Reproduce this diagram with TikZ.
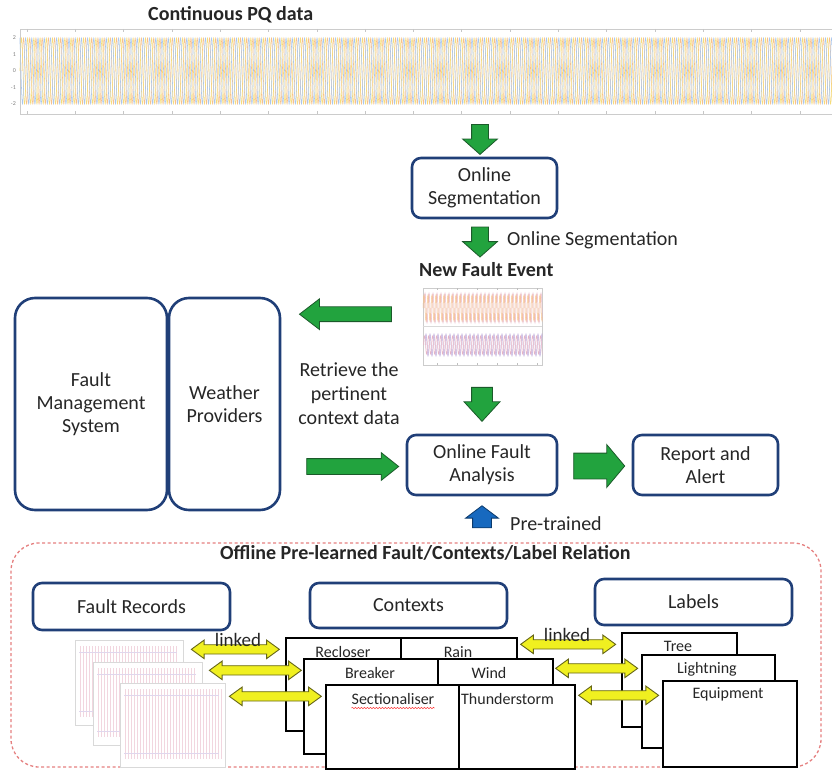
\documentclass[tikz,border=0pt]{standalone}
\usepackage{fontspec}
\setmainfont{Carlito}
\usetikzlibrary{shapes.arrows,calc,decorations.pathmorphing}
\definecolor{navy}{HTML}{203F78}
\definecolor{grn}{HTML}{22A33E}
\definecolor{dgrn}{HTML}{1B5A2A}
\definecolor{yel}{HTML}{F0F020}
\definecolor{olv}{HTML}{666618}
\definecolor{blu}{HTML}{1769BF}
\definecolor{dblu}{HTML}{0C3A6B}
\definecolor{txt}{HTML}{262626}
\definecolor{dashred}{HTML}{E58080}
\definecolor{wvA}{HTML}{F7C08A}
\definecolor{wvB}{HTML}{F5DC7A}
\definecolor{wvC}{HTML}{A9C6EC}
\definecolor{pk}{HTML}{E8B4C4}
\definecolor{pu}{HTML}{BBA6D8}
\begin{document}
\begin{tikzpicture}[x=1pt,y=-1pt,
  every node/.style={text=txt},
  ubox/.style={draw=navy, line width=2.6pt, rounded corners=9pt, align=center,
     font=\fontsize{20}{23}\selectfont, inner sep=0pt},
  bigbox/.style={ubox, rounded corners=20pt},
  cell/.style={draw=black, line width=1.3pt, fill=white, inner sep=0pt},
  ctext/.style={font=\fontsize{16}{19}\selectfont, inner sep=0pt, anchor=base},
  lbl/.style={font=\fontsize{20}{24}\selectfont, align=center, inner sep=0pt},
  ttl/.style={font=\bfseries\fontsize{20}{24}\selectfont, inner sep=0pt, anchor=base west},
  barrow/.style n args={4}{single arrow, minimum height=#1, inner xsep=0pt,
     inner ysep=#2, single arrow head extend=#3, single arrow tip angle=#4, line width=0.8pt},
  garrow/.style={draw=dgrn, fill=grn},
  yarrow/.style={double arrow, draw=olv, fill=yel, line width=0.9pt, minimum height=#1,
     inner xsep=0pt, inner ysep=4.2pt, double arrow head extend=4.6pt, double arrow tip angle=72},
  thumb/.style={draw=gray!30, fill=white, line width=0.6pt},
  axisc/.style={draw=gray!40, line width=0.6pt},
  tick/.style={font=\fontsize{6}{7}\selectfont, text=gray, inner sep=0pt, anchor=east},
]
\useasboundingbox (0,0) rectangle (832,770);

% ---------------- Continuous PQ data ----------------
\node[ttl] (pqt) at (148,21) {Continuous PQ data};
\node[axisc, minimum width=812, minimum height=85, inner sep=0pt] (pq) at (426,71.5) {};
\begin{scope}
  \clip (pq.north west) rectangle (pq.south east);
  \foreach \st/\col in {22/wvA, 19.93/wvB, 17.87/wvC}{
    \draw[\col, line width=0.55pt] (\st,71)
      \foreach \i in {0,...,131}{ sin ++(1.55,-33) cos ++(1.55,33) sin ++(1.55,33) cos ++(1.55,-33) };
  }
\end{scope}
\foreach \xx in {27,75.3,...,832}{
  \draw[gray!45, line width=0.5pt] (\xx,114) -- ++(0,-3);
  \draw[gray!45, line width=0.5pt] (\xx,29) -- ++(0,3);
}
\foreach \yy/\tl in {38/2, 54.5/1, 71/0, 87.5/-1, 104/-2}{
  \node[tick] at (16,\yy) {\tl};
}

% ---------------- online chain ----------------
\node[ubox, minimum width=145, minimum height=60] (seg) at (484.5,188) {Online\\Segmentation};
\node[barrow={30}{8pt}{9pt}{97}, garrow, rotate=-90] (a1) at ($(seg.north)+(-4.5,-21)$) {};
\node[barrow={30}{8pt}{9pt}{97}, garrow, rotate=-90] (a2) at ($(seg.south)+(-4.5,19)$) {};
\node[lbl, anchor=base west] (segl) at (507,245) {Online Segmentation};

\node[ttl] (nfe) at (419,276) {New Fault Event};
% small fault waveform
\node[axisc, minimum width=119, minimum height=77, inner sep=0pt] (nfp) at (482.5,326.5) {};
\begin{scope}
  \clip (nfp.north west) rectangle (nfp.south east);
  \foreach \st/\col/\cy/\am in {424/pk/308/15, 423/wvA/308/13, 425/pu/345/11, 423.5/pk/345/9}{
    \draw[\col, line width=0.5pt] (\st,\cy)
      \foreach \i in {0,...,30}{ sin ++(1,-\am) cos ++(1,\am) sin ++(1,\am) cos ++(1,-\am) };
  }
  \draw[gray!30, line width=0.4pt] (nfp.west |- 0,326) -- (nfp.east |- 0,326);
\end{scope}
\foreach \xx in {437,457,...,542}{
  \draw[gray!50, line width=0.4pt] (\xx,288) -- ++(0,2);
  \draw[gray!50, line width=0.4pt] (\xx,365) -- ++(0,-2);
}

% context sources
\node[bigbox, minimum width=152, minimum height=212] (fms) at (91,404) {Fault\\Management\\System};
\node[bigbox, minimum width=111, minimum height=212] (wea) at (224.5,404) {Weather\\Providers};
\node[barrow={92}{7pt}{8pt}{75}, garrow, rotate=180] (a3) at ($(wea.north east)+(69,17.5)$) {};
\node[lbl] (ret) at (349,394) {Retrieve the\\pertinent\\context data};

\node[ubox, minimum width=150, minimum height=60] (ofa) at (482,465) {Online Fault\\Analysis};
\node[ubox, minimum width=145, minimum height=60] (rep) at (705.5,465) {Report and\\Alert};
\node[barrow={92}{7.5pt}{6pt}{77}, garrow] (a4) at ($(ofa.west)+(-58,1.5)$) {};
\node[barrow={34}{10pt}{7.5pt}{85}, garrow, rotate=-90] (a5) at ($(ofa.north)+(0,-35)$) {};
\node[barrow={51}{12.5pt}{8.5pt}{100}, garrow] (a6) at ($(ofa.east)+(35.5,1)$) {};
\node[barrow={22}{9pt}{7pt}{106}, draw=dblu, fill=blu, rotate=90] (a7) at ($(ofa.south)+(0,24)$) {};
\node[lbl, anchor=base west] (pre) at (510,530) {Pre-trained};

% ---------------- offline ----------------
\node[draw=dashred, dash pattern=on 3pt off 2.5pt, line width=1.3pt, rounded corners=28pt,
      minimum width=810, minimum height=224, inner sep=0pt] (off) at (416,655) {};
\node[ttl] (offt) at (220,559) {Offline Pre-learned Fault/Contexts/Label Relation};

\node[ubox, minimum width=197, minimum height=47] (frec) at (131.5,606.5) {Fault Records};
\node[ubox, minimum width=197, minimum height=45] (ctx) at (408.5,605.5) {Contexts};
\node[ubox, minimum width=197, minimum height=46] (lab) at (693.5,602) {Labels};

% fault record thumbnails
\foreach \nm/\xa/\ya/\xb/\yb in {t1/75/640/183/725, t2/93/662/202/745, t3/120/683/225/767}{
  \node[thumb, minimum width=\xb-\xa, minimum height=\yb-\ya, inner sep=0pt] (\nm) at ({(\xa+\xb)/2},{(\ya+\yb)/2}) {};
  \foreach \xx in {3,6,...,100}{
    \pgfmathsetmacro\xp{\xa+\xx+2}
    \ifdim\xp pt<\xb pt
      \draw[pk!55, line width=0.45pt] (\xp,\ya+6) -- (\xp,\yb-8);
    \fi
  }
  \draw[pu!45, line width=0.4pt] (\xa+4,\ya+12) -- (\xb-6,\ya+12);
  \draw[pu!45, line width=0.4pt] (\xa+4,\yb-14) -- (\xb-6,\yb-14);
}

% context tables
\node[cell, minimum width=231, minimum height=93] (rec) at (401.5,684.5) {};
\draw[black, line width=1.3pt] (401,638) -- (401,731);
\node[ctext] at (343,657) {Recloser};
\node[ctext] at (458,657) {Rain};

\node[cell, minimum width=249, minimum height=95] (brk) at (428.5,706.5) {};
\draw[black, line width=1.3pt] (438,659) -- (438,754);
\node[ctext] at (370,678) {Breaker};
\node[ctext] at (489,678) {Wind};

\node[cell, minimum width=249, minimum height=84] (sec) at (450.5,727) {};
\draw[black, line width=1.3pt] (459,685) -- (459,769);
\node[ctext] (secl) at (393,704) {Sectionaliser};
\node[ctext, anchor=base west] at (461,704) {Thunderstorm};
\draw[red!80, line width=0.5pt, decorate, decoration={snake, amplitude=0.7pt, segment length=3pt}]
   ($(secl.base west)+(0,4)$) -- ($(secl.base east)+(0,4)$);

% label boxes
\node[cell, minimum width=115, minimum height=94] (tree) at (679.5,680) {};
\node[ctext] at (678,651) {Tree};
\node[cell, minimum width=133, minimum height=93] (ltn) at (708.5,701.5) {};
\node[ctext] at (707,673) {Lightning};
\node[cell, minimum width=134, minimum height=86] (eqp) at (730,724) {};
\node[ctext] at (728,698) {Equipment};

% linked arrows
\node[yarrow=88] (y1) at ($(rec.north west)+(-50,12)$) {};
\node[yarrow=92] (y2) at ($(brk.north west)+(-48,12)$) {};
\node[yarrow=92] (y3) at ($(sec.north west)+(-50,12)$) {};
\node[yarrow=95] (y4) at ($(rec.north east)+(50.5,7)$) {};
\node[yarrow=82] (y5) at ($(brk.north east)+(43,10)$) {};
\node[yarrow=80] (y6) at ($(sec.north east)+(43,11)$) {};
\node[lbl, font=\fontsize{19}{22}\selectfont, anchor=base] (lk1) at (238,646) {linked};
\node[lbl, font=\fontsize{19}{22}\selectfont, anchor=base] (lk2) at (567,641) {linked};
\end{tikzpicture}
\end{document}
